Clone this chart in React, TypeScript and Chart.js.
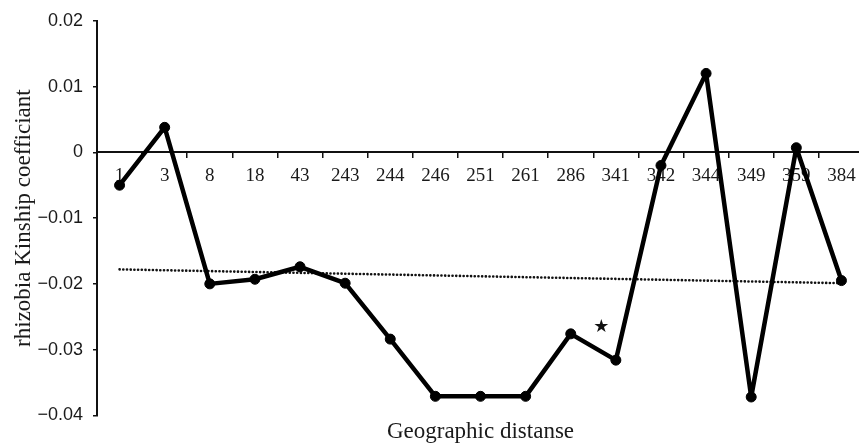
import React, { useEffect, useRef } from 'react';
import { Chart, registerables } from 'chart.js';

Chart.register(...registerables);

// ---- data ----
const categories = ['1', '3', '8', '18', '43', '243', '244', '246', '251', '261', '286', '341', '342', '344', '349', '359', '384'];
const kinship = [-0.005, 0.0038, -0.02, -0.0193, -0.0174, -0.0199, -0.0284, -0.0371, -0.0371, -0.0371, -0.0276, -0.0316, -0.002, 0.012, -0.0372, 0.0007, -0.0195];
const trendline = [-0.0178, null, null, null, null, null, null, null, null, null, null, null, null, null, null, null, -0.0199];
const starPosition = [10.68, -0.0264];
const starGlyph = '★';
const yTickValues = [0.02, 0.01, 0, -0.01, -0.02, -0.03, -0.04];
const yTickLabels = ['0.02', '0.01', '0', '−0.01', '−0.02', '−0.03', '−0.04'];
const xTitle = 'Geographic distanse';
const yTitle = 'rhizobia Kinship coefficiant';

const starPlugin = {
  id: 'starMarker',
  afterDatasetsDraw(chart: any) {
    const { ctx, scales } = chart;
    const px = scales.x.getPixelForValue(starPosition[0]);
    const py = scales.y.getPixelForValue(starPosition[1]);
    ctx.save();
    ctx.font = '18px "DejaVu Sans"';
    ctx.fillStyle = '#111';
    ctx.textAlign = 'center';
    ctx.textBaseline = 'middle';
    ctx.fillText(starGlyph, px, py + 1);
    ctx.restore();
  },
};

export default function App() {
  const canvasRef = useRef<HTMLCanvasElement | null>(null);

  useEffect(() => {
    const canvas = canvasRef.current;
    if (!canvas) return;
    const chart = new Chart(canvas, {
      type: 'line',
      data: {
        labels: categories,
        datasets: [
          {
            data: kinship,
            borderColor: '#000',
            backgroundColor: '#000',
            borderWidth: 4.5,
            borderJoinStyle: 'round',
            borderCapStyle: 'round',
            pointRadius: 5,
            pointBackgroundColor: '#000',
            pointBorderColor: '#000',
            pointBorderWidth: 1,
            tension: 0,
            fill: false,
          },
          {
            data: trendline as any,
            borderColor: '#111',
            borderWidth: 2.6,
            borderDash: [0.1, 3.6],
            borderCapStyle: 'round',
            pointRadius: 0,
            spanGaps: true,
            fill: false,
          },
        ],
      },
      options: {
        responsive: false,
        animation: false,
        devicePixelRatio: 1,
        layout: { padding: { top: 20, left: 0, right: 0, bottom: 0 } },
        plugins: {
          legend: { display: false },
          tooltip: { enabled: false },
          title: {
            display: true,
            text: xTitle,
            position: 'bottom',
            fullSize: false,
            color: '#1a1a1a',
            font: { family: '"Liberation Serif"', size: 23, weight: 'normal' },
            padding: { top: 3, bottom: 0 },
          },
        },
        scales: {
          x: {
            type: 'category',
            position: { y: 0 } as any,
            offset: true,
            afterFit: (scale: any) => {
              scale.height = 0;
            },
            grid: {
              display: true,
              offset: true,
              drawOnChartArea: false,
              drawTicks: true,
              tickLength: 5,
              color: '#111',
              lineWidth: 1.5,
            },
            border: { display: true, color: '#111', width: 2 },
            ticks: {
              color: '#1a1a1a',
              padding: 7,
              maxRotation: 0,
              autoSkip: false,
              font: { family: '"Liberation Serif"', size: 19 },
            },
          },
          y: {
            type: 'linear',
            min: -0.04,
            max: 0.02,
            afterFit: (scale: any) => {
              scale.width = 97;
            },
            grid: {
              display: true,
              drawOnChartArea: false,
              drawTicks: true,
              tickLength: 4,
              color: '#111',
              lineWidth: 1.5,
            },
            border: { display: true, color: '#111', width: 2 },
            ticks: {
              stepSize: 0.01,
              color: '#1a1a1a',
              padding: 10,
              font: { family: '"Liberation Sans"', size: 18 },
              callback: (v: any) => {
                const i = yTickValues.findIndex((t) => Math.abs(t - Number(v)) < 1e-9);
                return i >= 0 ? yTickLabels[i] : '';
              },
            },
            title: {
              display: true,
              text: yTitle,
              color: '#1a1a1a',
              font: { family: '"Liberation Serif"', size: 23, weight: 'normal' },
              padding: { top: 10, bottom: 0 },
            },
          },
        },
      },
      plugins: [starPlugin],
    });
    return () => chart.destroy();
  }, []);

  return (
    <div
      style={{
        position: 'fixed',
        left: 0,
        top: 0,
        width: 859,
        height: 443,
        overflow: 'hidden',
        background: '#fff',
      }}
    >
      <canvas ref={canvasRef} width={870} height={446} style={{ display: 'block' }} />
    </div>
  );
}
